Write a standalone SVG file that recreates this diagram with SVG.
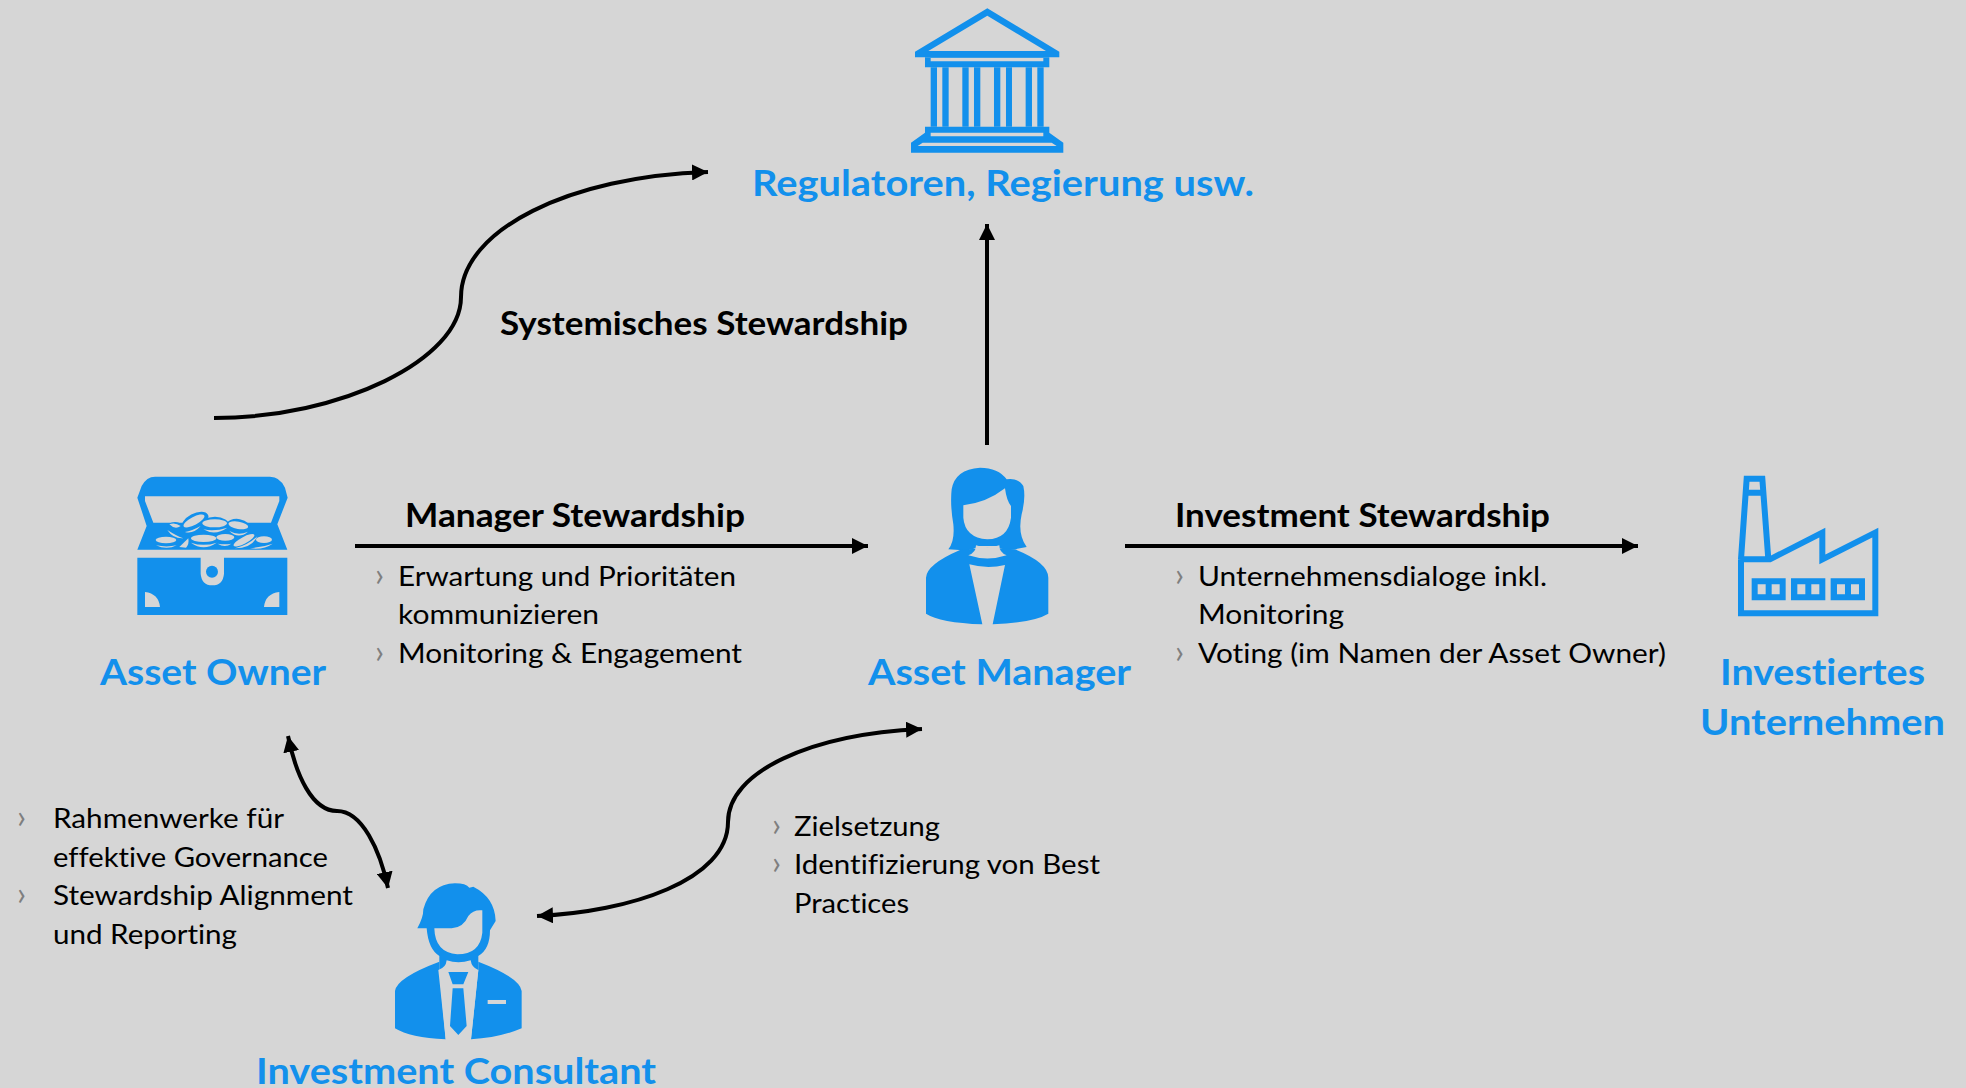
<svg xmlns="http://www.w3.org/2000/svg" width="1966" height="1088" viewBox="0 0 1966 1088">
<style>
text{font-family:Lato,"Liberation Sans",sans-serif;font-variant-ligatures:none}
.t{font-size:27px;fill:#000}
.b{font-size:33px;font-weight:700;fill:#000}
.n{font-size:37px;font-weight:700;fill:#1290EC}
.m{font-size:32px;fill:#7f7f7f}
.i{fill:#1290EC}
.g{fill:#D6D6D6}
.l{fill:none;stroke:#000;stroke-width:4}
</style>
<defs>
<marker id="a" markerUnits="userSpaceOnUse" markerWidth="18" markerHeight="16" refX="16" refY="8" orient="auto-start-reverse"><path d="M0,0L16,8L0,16Z" fill="#000"/></marker>
</defs>
<rect width="1966" height="1088" fill="#D6D6D6"/>
<g id="connectors">
<path class="l" marker-end="url(#a)" d="M214,418C340,418 461,360 461,297C461,230 570,176 708,172"/>
<path class="l" marker-end="url(#a)" d="M987,445V224"/>
<path class="l" marker-end="url(#a)" d="M355,546H868"/>
<path class="l" marker-end="url(#a)" d="M1125,546H1638"/>
<path class="l" marker-start="url(#a)" marker-end="url(#a)" d="M288,736C296,775 312,811 337,811C362,811 380,850 388,888"/>
<path class="l" marker-start="url(#a)" marker-end="url(#a)" d="M537,916C630,912 728,880 728,822C728,772 810,734 922,729"/>
</g>
<g id="regulatoren">
<g transform="translate(880,0) scale(.3333)">
<path class="i" fill-rule="evenodd" d="M322,25L538,155V172H105V155ZM322,47L145,153H498Z"/>
<path class="i" fill-rule="evenodd" d="M135,172H508V202H135ZM152,174V184H490V174Z"/>
<path class="i" d="M152,202h19v178h-19zM187,202h19v178h-19zM247,202h19v178h-19zM282,202h19v178h-19zM342,202h19v178h-19zM378,202h18v178h-18zM437,202h19v178h-19zM472,202h19v178h-19z"/>
<path class="i" fill-rule="evenodd" d="M135,380H508V398L550,428V458H93V428L135,398ZM152,398V409H490V398ZM113,438H530L515,428H128Z"/>
</g>
<text class="n" x="752" y="196" textLength="502" lengthAdjust="spacingAndGlyphs">Regulatoren, Regierung usw.</text>
</g>
<g id="asset-owner">
<g transform="translate(120,461) scale(.3333)">
<path class="i" fill-rule="evenodd" d="M52,110L65,75Q80,47 105,47H450Q480,47 495,80L503,110L472,190L502,266H52L80,195ZM75,106V120L100,185H453L478,120V106Z"/>
<path class="i" d="M52,290H242V338Q245,373 277,373Q309,373 312,338V290H502V462H52Z"/>
<circle class="i" cx="276" cy="332" r="18"/>
<path class="g" d="M75,393Q116,398 120,438H75ZM478,393Q436,398 432,438H478Z"/>
<ellipse class="i" cx="225" cy="182" rx="44" ry="24" transform="rotate(-28 225 182)"/>
<ellipse class="i" cx="285" cy="195" rx="44" ry="28"/>
<ellipse class="i" cx="355" cy="200" rx="38" ry="26" transform="rotate(10 355 200)"/>
<ellipse class="i" cx="165" cy="205" rx="26" ry="22"/>
<ellipse class="g" cx="222" cy="180" rx="35" ry="12" transform="rotate(-28 222 180)"/>
<ellipse class="g" cx="284" cy="187" rx="37" ry="12"/>
<path class="g" d="M250,205Q285,212 322,200Q285,226 250,205Z"/>
<ellipse class="g" cx="355" cy="193" rx="30" ry="11" transform="rotate(10 355 193)"/>
<path class="g" d="M328,210Q355,225 384,212Q355,236 328,210Z"/>
<path class="g" d="M142,207Q170,225 190,232Q160,234 142,207ZM148,190Q165,183 182,195Q165,207 148,190ZM195,213Q215,210 242,195Q220,220 195,213Z"/>
<ellipse class="g" cx="138" cy="237" rx="31" ry="10"/>
<path class="g" d="M108,253Q140,260 170,253Q140,268 108,253Z"/>
<ellipse class="g" cx="251" cy="232" rx="38" ry="11"/>
<path class="g" d="M213,245Q250,258 290,245Q250,272 213,245Z"/>
<ellipse class="g" cx="316" cy="229" rx="27" ry="10"/>
<path class="g" d="M293,248Q315,252 334,248Q315,262 293,248Z"/>
<ellipse class="g" cx="372" cy="238" rx="35" ry="10" transform="rotate(-28 372 238)"/>
<path class="g" d="M345,262Q385,252 412,226Q395,262 345,262Z"/>
<ellipse class="g" cx="432" cy="236" rx="24" ry="10"/>
<path class="g" d="M390,262Q430,258 458,248Q430,268 390,262Z"/>
<path class="g" d="M178,258L205,232Q208,250 198,260Z"/>
</g>
<text class="n" x="100" y="685" textLength="226" lengthAdjust="spacingAndGlyphs">Asset Owner</text>
</g>
<g id="asset-manager">
<g transform="translate(900,451) scale(.3333)">
<path class="i" d="M145,295Q165,270 160,220Q150,160 155,115Q165,55 240,50Q295,50 320,85Q355,80 370,105Q378,140 365,190Q352,250 380,288L345,295Q305,300 290,285H235Q220,300 178,297Z"/>
<path class="i" d="M78,380Q80,340 180,297L262,290L345,295Q445,335 445,380V488Q400,515 278,520L315,342Q262,355 208,340L247,520Q120,515 78,488Z"/>
<path class="g" d="M190,163Q260,155 315,112Q320,150 333,165V200Q325,263 262,265Q195,260 190,200Z"/>
<path class="g" d="M228,283Q262,295 298,283Q298,305 320,313Q262,332 205,313Q228,305 228,283Z"/>
</g>
<text class="n" x="868" y="685" textLength="263" lengthAdjust="spacingAndGlyphs">Asset Manager</text>
</g>
<g id="investiertes-unternehmen">
<g transform="translate(1720,461) scale(.3333)">
<path fill="none" stroke="#1290EC" stroke-width="18" d="M63,295L80,53H127L145,295M80,95H127M63,295V457H466V215L307,295V215L150,295H63"/>
<path class="i" fill-rule="evenodd" d="M95,352H197V418H95ZM113,370V400H137V370ZM155,370V400H179V370ZM213,352H316V418H213ZM232,370V400H256V370ZM274,370V400H298V370ZM332,352H435V418H332ZM351,370V400H375V370ZM393,370V400H417V370Z"/>
</g>
<text class="n" x="1720" y="685" textLength="205" lengthAdjust="spacingAndGlyphs">Investiertes</text>
<text class="n" x="1700" y="735" textLength="245" lengthAdjust="spacingAndGlyphs">Unternehmen</text>
</g>
<g id="investment-consultant">
<g transform="translate(380,871) scale(.3333)">
<path class="i" d="M112,172Q130,140 130,115Q150,40 225,37Q258,37 268,50L280,47Q345,80 347,150L330,178Q330,235 295,255V297H178V255Q145,235 140,172Z"/>
<path class="i" d="M45,360Q50,320 178,272L178,297L197,505Q90,500 45,472ZM425,360Q420,320 295,272L295,297L273,505Q360,500 425,472Z"/>
<path class="g" d="M163,172H215Q250,170 265,135Q280,115 307,118V185Q300,250 232,250Q165,245 163,172Z"/>
<path class="g" d="M200,268Q235,280 272,268Q275,290 295,297L273,505H197L175,297Q198,290 200,268Z"/>
<path class="i" d="M205,303H265L250,340H218ZM218,352H250L260,465L235,492L210,465Z"/>
<rect class="g" x="323" y="387" width="55" height="12"/>
</g>
<text class="n" x="256" y="1084" textLength="400" lengthAdjust="spacingAndGlyphs">Investment Consultant</text>
</g>
<g id="labels">
<text class="b" x="500" y="335" textLength="408" lengthAdjust="spacingAndGlyphs">Systemisches Stewardship</text>
<text class="b" x="405" y="527" textLength="340" lengthAdjust="spacingAndGlyphs">Manager Stewardship</text>
<text class="b" x="1175" y="527" textLength="375" lengthAdjust="spacingAndGlyphs">Investment Stewardship</text>
<text class="m" x="375" y="586">›</text><text class="m" x="375" y="663">›</text>
<text class="t" x="398" y="586" textLength="338" lengthAdjust="spacingAndGlyphs">Erwartung und Prioritäten</text>
<text class="t" x="398" y="624" textLength="201" lengthAdjust="spacingAndGlyphs">kommunizieren</text>
<text class="t" x="398" y="663" textLength="344" lengthAdjust="spacingAndGlyphs">Monitoring &amp; Engagement</text>
<text class="m" x="1175" y="586">›</text><text class="m" x="1175" y="663">›</text>
<text class="t" x="1198" y="586" textLength="349" lengthAdjust="spacingAndGlyphs">Unternehmensdialoge inkl.</text>
<text class="t" x="1198" y="624" textLength="146" lengthAdjust="spacingAndGlyphs">Monitoring</text>
<text class="t" x="1198" y="663" textLength="468" lengthAdjust="spacingAndGlyphs">Voting (im Namen der Asset Owner)</text>
<text class="m" x="772" y="836">›</text><text class="m" x="772" y="874">›</text>
<text class="t" x="794" y="836" textLength="146" lengthAdjust="spacingAndGlyphs">Zielsetzung</text>
<text class="t" x="794" y="874" textLength="306" lengthAdjust="spacingAndGlyphs">Identifizierung von Best</text>
<text class="t" x="794" y="913" textLength="115" lengthAdjust="spacingAndGlyphs">Practices</text>
<text class="m" x="17" y="828">›</text><text class="m" x="17" y="905">›</text>
<text class="t" x="53" y="828" textLength="231" lengthAdjust="spacingAndGlyphs">Rahmenwerke für</text>
<text class="t" x="53" y="867" textLength="275" lengthAdjust="spacingAndGlyphs">effektive Governance</text>
<text class="t" x="53" y="905" textLength="300" lengthAdjust="spacingAndGlyphs">Stewardship Alignment</text>
<text class="t" x="53" y="944" textLength="184" lengthAdjust="spacingAndGlyphs">und Reporting</text>
</g>
</svg>
